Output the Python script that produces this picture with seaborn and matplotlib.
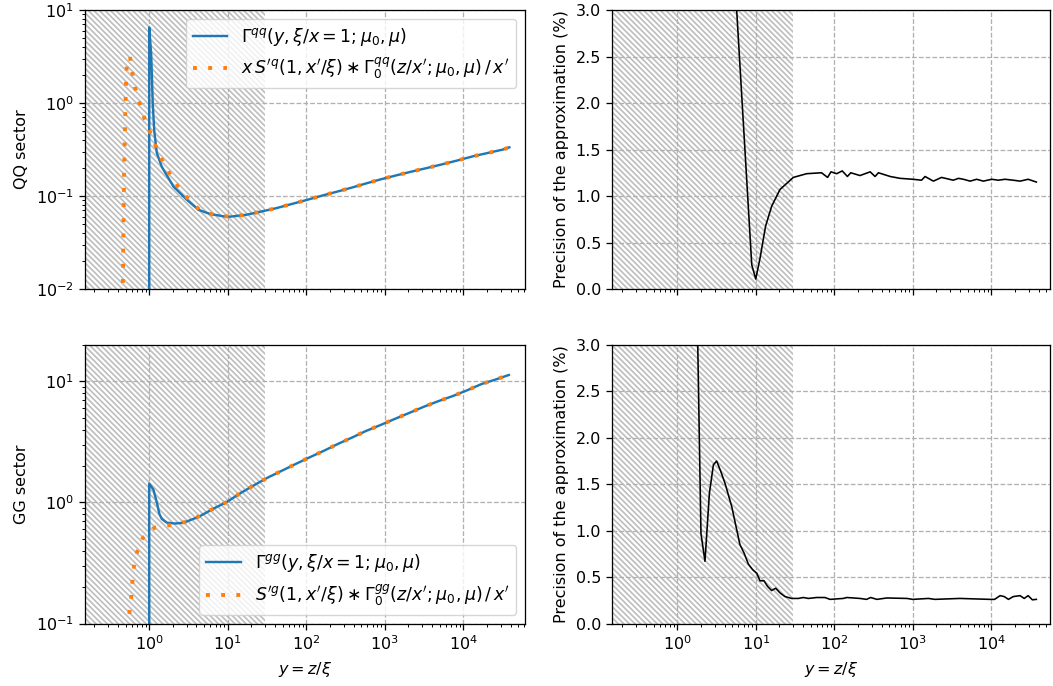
import matplotlib
matplotlib.use("Agg")
import matplotlib.pyplot as plt
import seaborn as sns
import numpy as np

# ---------------- data ----------------
# QQ sector, full Gamma (blue)
qq_full_x = [1.0, 1.0, 1.06, 1.11, 1.16, 1.25, 1.45, 2.04, 3.02, 4.25, 6.0, 8.8, 10.8,
             17.1, 26.5, 41.5, 65, 101, 157, 243, 378, 586, 910, 1413, 2190, 3440,
             5350, 8400, 13200, 20400, 32000, 38600]
qq_full_y = [1e-3, 6.5, 3.3, 0.97, 0.50, 0.29, 0.205, 0.126, 0.091, 0.071, 0.064, 0.0605, 0.060,
             0.0628, 0.068, 0.074, 0.082, 0.0906, 0.1007, 0.111, 0.123, 0.137, 0.152, 0.167,
             0.183, 0.200, 0.219, 0.241, 0.267, 0.290, 0.316, 0.334]
# QQ sector, approximation (orange dotted)
qq_appr_x = [0.455, 0.462, 0.47, 0.48, 0.49, 0.50, 0.51, 0.52, 0.55, 0.57, 0.61, 0.66, 0.75,
             0.87, 1.03, 1.23, 1.49, 1.85, 2.36, 3.17, 4.37, 6.8, 10.6,
             17.1, 26.5, 41.5, 65, 101, 157, 243, 378, 586, 910, 1413, 2190, 3440,
             5350, 8400, 13200, 20400, 32000, 38600]
qq_appr_y = [0.008, 0.0107, 0.05, 0.2, 0.5, 1.07, 2.0, 2.6, 3.1, 3.15, 2.1, 1.46, 1.01,
             0.68, 0.48, 0.33, 0.235, 0.17, 0.124, 0.092, 0.071, 0.062, 0.060,
             0.0628, 0.068, 0.074, 0.082, 0.0906, 0.1007, 0.111, 0.123, 0.137, 0.152, 0.167,
             0.183, 0.200, 0.219, 0.241, 0.267, 0.290, 0.316, 0.334]

# GG sector, full Gamma (blue)
gg_full_x = [1.0, 1.0, 1.13, 1.25, 1.35, 1.45, 1.68, 2.14, 2.73, 4.25, 6.6, 9.75, 14.7, 21.7,
             32.6, 49, 74.5, 112, 169, 254, 380, 573, 880, 1330, 2060, 3130, 4750, 7340,
             11060, 16970, 26100, 38000]
gg_full_y = [0.05, 1.43, 1.28, 1.0, 0.80, 0.73, 0.68, 0.67, 0.68, 0.76, 0.89, 1.01, 1.2, 1.39,
             1.61, 1.83, 2.09, 2.37, 2.68, 3.05, 3.43, 3.89, 4.36, 4.89, 5.5, 6.17, 6.85, 7.57,
             8.42, 9.5, 10.4, 11.3]
# GG sector, approximation (orange dotted)
gg_appr_x = [0.54, 0.56, 0.59, 0.61, 0.64, 0.70, 0.83, 1.17, 1.85, 2.9, 4.37, 6.6, 9.75, 14.7,
             21.7, 32.6, 49, 74.5, 112, 169, 254, 380, 573, 880, 1330, 2060, 3130, 4750,
             7340, 11060, 16970, 26100, 38000]
gg_appr_y = [0.09, 0.123, 0.164, 0.22, 0.30, 0.39, 0.51, 0.62, 0.65, 0.69, 0.77, 0.89, 1.01, 1.2,
             1.39, 1.61, 1.83, 2.09, 2.37, 2.68, 3.05, 3.43, 3.89, 4.36, 4.89, 5.5, 6.17, 6.85,
             7.57, 8.42, 9.5, 10.4, 11.3]

# precision of the approximation (%)
qq_prec_x = [5.0, 5.7, 8.87, 9.97, 11.3, 13.3, 15.9, 20.3, 30, 44.4, 68.7, 82, 90.6, 107, 126,
             146.6, 162, 212, 286, 330, 364, 514, 688, 1003, 1290, 1430, 1825, 2320, 3270,
             3820, 4410, 5360, 6500, 7900, 10100, 12300, 14900, 19000, 23200, 29400, 37400]
qq_prec_y = [3.8, 3.0, 0.26, 0.107, 0.33, 0.675, 0.89, 1.07, 1.2, 1.24, 1.25, 1.2, 1.26, 1.24, 1.27,
             1.21, 1.25, 1.22, 1.26, 1.21, 1.25, 1.21, 1.19, 1.18, 1.17, 1.21, 1.16, 1.20, 1.17,
             1.19, 1.18, 1.16, 1.18, 1.16, 1.18, 1.17, 1.18, 1.17, 1.16, 1.18, 1.15]
gg_prec_x = [1.80, 1.82, 2.0, 2.25, 2.56, 2.88, 3.17, 3.57, 4.05, 4.93, 6.27, 7.07, 8.03, 9.1,
             10.3, 11.3, 12.7, 14.1, 15.9, 17.9, 20.3, 23.5, 28.6, 34.8, 40.3, 46.6, 59.6, 76,
             88, 130, 144, 212, 257, 290, 348, 466, 840, 1000, 1580, 1900, 3970, 9600, 11000,
             12900, 14600, 16500, 19000, 23200, 26200, 29400, 33300, 37400]
gg_prec_y = [3.5, 3.0, 0.97, 0.67, 1.40, 1.71, 1.75, 1.64, 1.51, 1.26, 0.85, 0.76, 0.64, 0.58,
             0.54, 0.46, 0.46, 0.40, 0.355, 0.38, 0.33, 0.29, 0.27, 0.27, 0.28, 0.27, 0.28, 0.28,
             0.26, 0.27, 0.28, 0.27, 0.26, 0.28, 0.26, 0.275, 0.27, 0.26, 0.27, 0.26, 0.27, 0.26,
             0.26, 0.30, 0.29, 0.26, 0.29, 0.30, 0.27, 0.30, 0.255, 0.26]

hatch_end = 30
qq_labels = [r'$\Gamma^{qq}(y,\xi/x=1;\mu_0,\mu)$',
             r'$x\,S^{\prime q}(1,x^\prime/\xi)\ast\Gamma_0^{qq}(z/x^\prime;\mu_0,\mu)\,/\,x^\prime$']
gg_labels = [r'$\Gamma^{gg}(y,\xi/x=1;\mu_0,\mu)$',
             r'$S^{\prime g}(1,x^\prime/\xi)\ast\Gamma_0^{gg}(z/x^\prime;\mu_0,\mu)\,/\,x^\prime$']
row_labels = ['QQ sector', 'GG sector']
prec_label = 'Precision of the approximation (%)'
x_label = r'$y = z/\xi$'

# ---------------- style (reference looks like matplotlib defaults scaled ~1.156) ----------------
s = 1.156
plt.rcParams.update({
    'font.size': 10 * s,
    'axes.linewidth': 0.8 * s,
    'xtick.major.size': 3.5 * s, 'ytick.major.size': 3.5 * s,
    'xtick.minor.size': 2.0 * s, 'ytick.minor.size': 2.0 * s,
    'xtick.major.width': 0.8 * s, 'ytick.major.width': 0.8 * s,
    'xtick.minor.width': 0.6 * s, 'ytick.minor.width': 0.6 * s,
    'xtick.major.pad': 3.5 * s, 'ytick.major.pad': 3.5 * s,
    'axes.labelpad': 4.0 * s,
    'hatch.linewidth': 1.2,
    'legend.fontsize': 12.5,
})

fig = plt.figure(figsize=(10.53, 6.86), dpi=100)
pos = {
    (0, 0): [0.0807, 0.5787, 0.4179, 0.4067],
    (0, 1): [0.5815, 0.5787, 0.4157, 0.4067],
    (1, 0): [0.0807, 0.0911, 0.4179, 0.4060],
    (1, 1): [0.5815, 0.0911, 0.4157, 0.4060],
}
ax00 = fig.add_axes(pos[(0, 0)])
ax01 = fig.add_axes(pos[(0, 1)])
ax10 = fig.add_axes(pos[(1, 0)], sharex=ax00)
ax11 = fig.add_axes(pos[(1, 1)], sharex=ax01)

for ax in (ax00, ax01, ax10, ax11):
    ax.set_xscale('log')
    ax.axvspan(1e-3, hatch_end, facecolor='none', edgecolor='0.74', hatch='\\' * 6,
               linewidth=0, zorder=0.5)
    ax.grid(True, which='major', linestyle='--', color='#b0b0b0', linewidth=0.8 * s)
for ax in (ax00, ax10):
    ax.set_yscale('log')

def left_panel(ax, fx, fy, axx, ay, labels):
    sns.lineplot(x=fx, y=fy, ax=ax, sort=False, estimator=None, color='#1f77b4',
                 linewidth=1.5 * s, label=labels[0])
    sns.lineplot(x=axx, y=ay, ax=ax, sort=False, estimator=None, color='#ff7f0e',
                 linewidth=2.8, linestyle=(0, (1, 2.9)), label=labels[1])

left_panel(ax00, qq_full_x, qq_full_y, qq_appr_x, qq_appr_y, qq_labels)
left_panel(ax10, gg_full_x, gg_full_y, gg_appr_x, gg_appr_y, gg_labels)
sns.lineplot(x=qq_prec_x, y=qq_prec_y, ax=ax01, sort=False, estimator=None, color='black',
             linewidth=1.0 * s)
sns.lineplot(x=gg_prec_x, y=gg_prec_y, ax=ax11, sort=False, estimator=None, color='black',
             linewidth=1.0 * s)

ax00.set_xlim(0.152, 61100)
ax01.set_xlim(0.1486, 55900)
ax00.set_ylim(1e-2, 10)
ax10.set_ylim(0.1, 20)
ax01.set_ylim(0, 3)
ax11.set_ylim(0, 3)

ax00.legend(loc='upper right')
ax10.legend(loc='lower right')

ax00.set_ylabel(row_labels[0])
ax10.set_ylabel(row_labels[1])
ax01.set_ylabel(prec_label)
ax11.set_ylabel(prec_label)
ax10.set_xlabel(x_label)
ax11.set_xlabel(x_label)
ax00.set_xlabel('')
ax01.set_xlabel('')
ax00.tick_params(labelbottom=False)
ax01.tick_params(labelbottom=False)

fig.savefig('out.png', dpi=100)
